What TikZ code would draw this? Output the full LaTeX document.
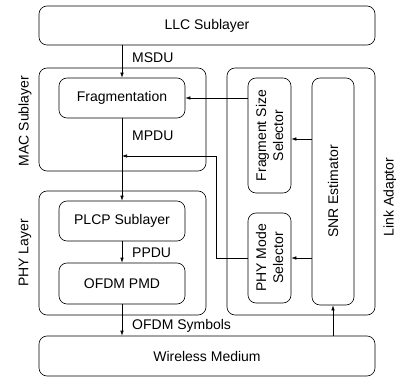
\documentclass[tikz,border=0pt]{standalone}
\usepackage{fontspec}
\setmainfont{Liberation Sans}
\usetikzlibrary{arrows.meta}
\begin{document}
\begin{tikzpicture}[x=1pt,y=-1pt,
  every node/.style={font=\fontsize{14}{17}\selectfont},
  blk/.style={draw, rounded corners=8pt, line width=0.6pt, inner sep=0pt},
  lbl/.style={anchor=west, inner sep=0pt},
  conn/.style={line width=0.6pt, -{Latex[length=5pt,width=3.5pt]}},
  wire/.style={line width=0.6pt}]
\useasboundingbox (0,0) rectangle (396,377);
% outer blocks
\node[blk, minimum width=336pt, minimum height=39pt] (llc) at (207,25.5) {LLC Sublayer};
\node[blk, minimum width=167pt, minimum height=103pt] (mac) at (122.5,119.5) {};
\node[blk, minimum width=148pt, minimum height=247pt] (link) at (301,191.5) {};
\node[blk, minimum width=167pt, minimum height=124pt] (phy) at (122.5,253) {};
\node[blk, minimum width=336pt, minimum height=40pt] (wm) at (207,356) {Wireless Medium};
% inner blocks
\node[blk, minimum width=126pt, minimum height=40pt] (frag) at (122,98) {Fragmentation};
\node[blk, minimum width=126pt, minimum height=40pt] (plcp) at (122,221) {PLCP Sublayer};
\node[blk, minimum width=126pt, minimum height=41pt] (pmd) at (122,283.5) {OFDM PMD};
\node[blk, minimum width=115pt, minimum height=43pt, rotate=90, align=center] (fss) at (269.5,135.5) {Fragment Size\\Selector};
\node[blk, minimum width=90pt, minimum height=43pt, rotate=90, align=center] (pms) at (269.5,258) {PHY Mode\\Selector};
\node[blk, minimum width=227pt, minimum height=42pt, rotate=90] (snr) at (333,191.5) {SNR Estimator};
% side labels
\node[rotate=90] (maclbl) at (25,121) {MAC Sublayer};
\node[rotate=90] (phylbl) at (25,253) {PHY Layer};
\node[rotate=90] (linklbl) at (390,197) {Link Adaptor};
% flow labels
\node[lbl] (msdu) at (132,58) {MSDU};
\node[lbl] (mpdu) at (132,136) {MPDU};
\node[lbl] (ppdu) at (132,253) {PPDU};
\node[lbl] (sym) at (132,326) {OFDM Symbols};
% connectors
\draw[conn] (frag.north |- llc.south) -- (frag.north);
\draw[conn] (frag.south) -- (plcp.north);
\draw[conn] (plcp.south) -- (pmd.north);
\draw[conn] (pmd.south) -- (pmd.south |- wm.north);
\coordinate (ysnr) at (0,139);
\draw[conn] (snr.north |- ysnr) -- (fss.south |- ysnr);
\draw[conn] (fss.north |- frag.east) -- (frag.east);
\draw[conn] (snr.north |- pms.south) -- (pms.south);
\coordinate (c1) at (216,156);
\draw[wire] (pms.north) -| (c1);
\draw[conn] (c1) -- (c1 -| frag.south);
\draw[conn] (snr.west |- wm.north) -- (snr.west);
\end{tikzpicture}
\end{document}
